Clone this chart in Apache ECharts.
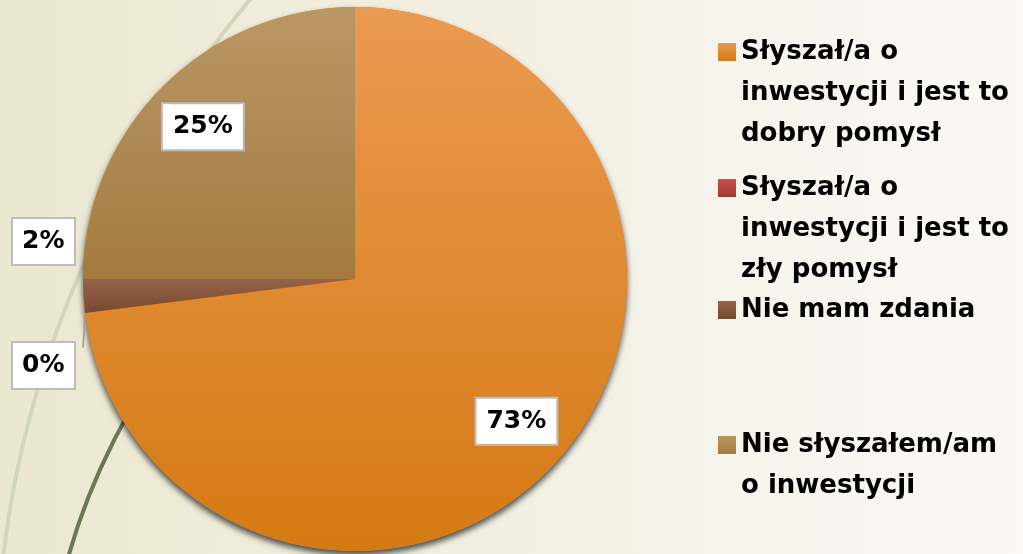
<!DOCTYPE html>
<html><head><meta charset="utf-8">
<script src="https://cdn.jsdelivr.net/npm/echarts@6/dist/echarts.min.js"></script>
<style>html,body{margin:0;padding:0;background:#F4F2E6;} #c{width:1023px;height:554px;}</style>
</head><body><div id="c"></div>
<script>
// ---- data ----
const categories = [
  'Słyszał/a o inwestycji i jest to dobry pomysł',
  'Słyszał/a o inwestycji i jest to zły pomysł',
  'Nie mam zdania',
  'Nie słyszałem/am o inwestycji'
];
const legendLabels = [
  'Słyszał/a o\ninwestycji i jest to\ndobry pomysł',
  'Słyszał/a o\ninwestycji i jest to\nzły pomysł',
  'Nie mam zdania',
  'Nie słyszałem/am\no inwestycji'
];
const values = [73, 0, 2, 25];
const topColors = ['#EA9A52', '#C6504C', '#956249', '#BA9766'];
const bottomColors = ['#D57A12', '#A33A2F', '#784A30', '#A47A3F'];

// ---- layout ----
const CX = 355, CY = 279, R = 272;
const FONT = 'DejaVu Sans';
const grad = (a, b) => new echarts.graphic.LinearGradient(0, 0, 0, 1, [{offset: 0, color: a}, {offset: 1, color: b}]);
const total = values.reduce((s, v) => s + v, 0);

const mainData = categories.map((n, i) => ({
  name: n, value: values[i],
  itemStyle: {color: grad(topColors[i], bottomColors[i])},
  label: {show: values[i] < 5},
  labelLine: {show: values[i] < 5}
}));
const overlayData = categories.map((n, i) => ({
  name: n, value: values[i],
  label: {show: values[i] >= 5}
}));

const boxLabel = {
  formatter: '{d}%',
  fontFamily: FONT, fontWeight: 'bold', fontSize: 25, color: '#000',
  backgroundColor: '#FFFFFF', borderColor: '#BDBDBD', borderWidth: 2,
  padding: [8, 10, 7, 10], lineHeight: 30
};

const legendTops = [47, 183, 305, 440]; // centre of the first text line
const LH = 41;
const legends = categories.map((n, i) => {
  const lines = legendLabels[i].split('\n').length;
  const total = (2 * lines - 1) * LH;
  return {
    data: [n], orient: 'vertical', left: 713,
    top: legendTops[i] - total / 2,
    itemWidth: 18, itemHeight: 18, icon: 'rect', selectedMode: false,
    formatter: () => '\n'.repeat(lines - 1) + legendLabels[i],
    textStyle: {
      fontFamily: FONT, fontWeight: 'bold', fontSize: 26, color: '#000',
      lineHeight: LH
    },
    itemGap: 0
  };
});

const chart = echarts.init(document.getElementById('c'), null, {renderer: 'canvas'});
chart.setOption({
  backgroundColor: new echarts.graphic.LinearGradient(0, 0, 1, 0, [
    {offset: 0, color: '#EBE7D0'}, {offset: 0.6, color: '#F4F2E7'}, {offset: 1, color: '#FAF9F4'}
  ]),
  animation: false,
  graphic: [
    {type: 'bezierCurve', z: 0, shape: {x1: 252, y1: -3, cpx1: 39, cpy1: 253, x2: 3, y2: 558},
     style: {stroke: '#D3D6BC', lineWidth: 4, fill: null}},
    {type: 'bezierCurve', z: 0, shape: {x1: 68, y1: 558, cpx1: 100, cpy1: 442, x2: 185, y2: 325},
     style: {stroke: '#6A7855', lineWidth: 4, fill: null}}
  ],
  legend: legends,
  series: [
    {
      type: 'pie', center: [CX, CY], radius: R, silent: true, z: 1,
      label: {show: false}, labelLine: {show: false},
      itemStyle: {color: '#D98326', shadowColor: 'rgba(0,0,0,0.7)', shadowBlur: 6, shadowOffsetY: 4},
      data: [{name: '_', value: total}]
    },
    {
      type: 'pie', center: [CX, CY], radius: R, startAngle: 90, clockwise: true, z: 2,
      emphasis: {disabled: true},
      label: Object.assign({}, boxLabel, {position: 'outside', alignTo: 'edge', edgeDistance: 13,
        width: 44, overflow: 'none', padding: [8, 8, 7, 9]}),
      labelLine: {show: true, length: 8, length2: 8, lineStyle: {color: '#9C9C9C', width: 1.5}},
      labelLayout: p => p.dataIndex === 2 ? {dy: -55} : (p.dataIndex === 1 ? {dy: 18} : {}),
      data: mainData
    },
    {
      type: 'pie', center: [CX, CY], radius: [R * 0.56, R], startAngle: 90, clockwise: true, z: 3,
      silent: true, emphasis: {disabled: true},
      itemStyle: {color: 'rgba(0,0,0,0)'},
      label: Object.assign({position: 'inside'}, boxLabel),
      labelLine: {show: false},
      data: overlayData
    }
  ]
});
</script>
</body></html>
